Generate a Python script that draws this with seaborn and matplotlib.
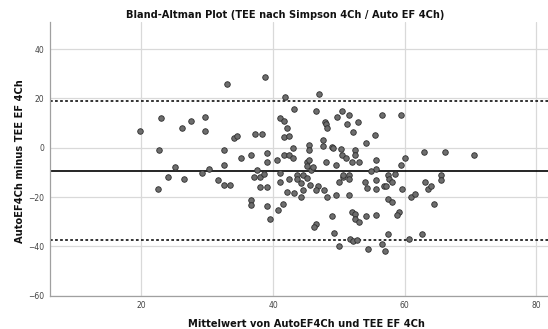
import matplotlib
matplotlib.use("Agg")
import matplotlib.pyplot as plt
import seaborn as sns
import pandas as pd

# ---- data ----
mean_values = [
    19.8, 23.0, 26.1, 27.6, 29.7, 29.7, 22.6, 25.1, 24.0, 26.4, 29.2, 30.2, 22.5,
    33.0, 38.8, 41.8, 34.1, 34.6, 37.3, 38.3, 41.0, 41.6, 42.1, 41.7, 42.4,
    32.6, 35.1, 36.6, 39.1, 39.1, 40.6, 41.6, 42.4, 32.6, 31.7, 32.6, 33.5,
    37.6, 37.1, 38.0, 38.6, 41.1, 42.4, 38.0, 39.1, 41.1, 42.1, 36.7, 36.7,
    39.1, 40.7, 41.5, 39.6,
    47.0, 43.2, 46.6, 49.7, 50.5, 51.6, 52.9, 51.3, 52.1, 47.9, 48.1, 48.2,
    54.1, 47.6, 47.6, 45.5, 45.5, 43.1, 48.9, 49.1, 50.4, 52.5, 52.5, 50.5,
    51.1, 53.1, 52.0, 48.0, 49.6, 43.0, 45.1, 45.5, 45.2, 45.7, 46.1, 43.6,
    44.6, 45.1, 43.6, 44.2, 45.6, 46.8, 46.5, 44.6, 47.7, 43.2, 44.2, 48.2,
    49.5, 51.5, 50.6, 50.6, 51.6, 51.6, 50.0, 54.0, 54.3, 49.0, 46.5, 46.2,
    49.3, 52.0, 52.5, 52.5, 53.1, 54.1, 51.7, 52.1, 52.8, 50.0, 54.5,
    57.0, 56.6, 57.5, 60.6, 62.6, 56.5, 59.5, 55.5, 63.0, 66.1, 60.1, 59.5,
    55.6, 55.6, 54.9, 55.6, 55.6, 57.5, 58.5, 57.6, 58.1, 56.9, 57.1, 59.6,
    57.5, 58.1, 59.1, 58.8, 55.7, 61.0, 61.6, 63.1, 63.6, 64.0, 64.5, 65.5,
    65.5, 70.6,
]
diff_values = [
    6.6, 12.0, 8.0, 11.0, 12.5, 6.6, -1.0, -7.9, -12.0, -12.7, -10.2, -8.5, -16.8,
    25.9, 28.5, 20.4, 4.0, 4.9, 5.5, 5.6, 12.1, 11.0, 7.9, 4.5, 4.9,
    -1.0, -4.0, -3.0, -2.0, -5.9, -5.1, -3.0, -3.0, -7.0, -13.2, -15.0, -15.0,
    -8.9, -12.0, -12.0, -10.8, -10.1, -12.8, -15.9, -15.9, -14.0, -17.9, -21.0, -23.1,
    -23.7, -25.1, -22.8, -28.9,
    22.0, 15.8, 14.9, 12.5, 15.1, 13.1, 10.3, 9.5, 6.2, 10.3, 9.7, 7.9,
    2.1, 3.0, 0.9, 1.1, -1.0, -0.1, 0.5, 0.1, -0.7, -0.9, -3.0, -3.0,
    -4.0, -5.9, -5.9, -5.9, -7.1, -4.0, -5.9, -4.9, -7.5, -8.9, -8.0, -11.0,
    -11.0, -12.1, -12.8, -14.4, -15.0, -15.5, -17.0, -17.0, -17.0, -18.2, -20.1, -20.1,
    -19.0, -19.0, -11.7, -10.9, -10.9, -12.8, -13.9, -13.9, -16.4, -27.8, -30.8, -32.0,
    -34.4, -25.9, -27.0, -28.9, -30.0, -27.8, -37.1, -37.9, -37.4, -39.8, -40.9,
    -41.7, -38.9, -34.8, -36.9, -34.8, 13.1, 13.1, 5.1, -1.8, -1.8, -4.0, -6.8,
    -4.9, -8.7, -9.5, -12.9, -16.8, -10.9, -10.8, -12.7, -14.0, -15.5, -15.7, -16.8,
    -20.9, -22.0, -25.9, -27.4, -27.1, -20.0, -18.9, -14.0, -16.8, -15.6, -22.9, -10.9,
    -12.9, -3.0,
]
mean_difference = -9.4
upper_limit = 18.9
lower_limit = -37.3

x_ticks = [20, 40, 60, 80]
y_ticks = [-60, -40, -20, 0, 20, 40]

title_text = "Bland-Altman Plot (TEE nach Simpson 4Ch / Auto EF 4Ch)"
x_label = "Mittelwert von AutoEF4Ch und TEE EF 4Ch"
y_label = "AutoEF4Ch minus TEE EF 4Ch"

df = pd.DataFrame({"mean": mean_values, "diff": diff_values})

sns.set_theme(style="white")
plt.rcParams["font.family"] = ["DejaVu Sans"]

fig = plt.figure(figsize=(5.48, 3.29), dpi=100)
ax = fig.add_axes([50 / 548, 1 - 295.7 / 329, (548 - 50) / 548, (295.7 - 22) / 329])

ax.set_xlim(6.1, 81.8)
ax.set_ylim(-60, 51)
ax.set_xticks(x_ticks)
ax.set_yticks(y_ticks)
ax.grid(True, color="#d9d9d9", linewidth=0.9)
ax.set_axisbelow(True)

for s in ["top", "right"]:
    ax.spines[s].set_visible(False)
for s in ["left", "bottom"]:
    ax.spines[s].set_color("#a0a0a0")
    ax.spines[s].set_linewidth(0.9)

sns.scatterplot(data=df, x="mean", y="diff", ax=ax, s=16, color="#6d6d6d",
                edgecolor="#2e2e2e", linewidth=0.6, zorder=3, legend=False)

ax.axhline(mean_difference, color="black", linewidth=1.2, zorder=2)
ax.axhline(upper_limit, color="#222222", linewidth=1.3, linestyle=(0, (1.5, 1.3)), zorder=2)
ax.axhline(lower_limit, color="#222222", linewidth=1.3, linestyle=(0, (1.5, 1.3)), zorder=2)

ax.tick_params(axis="both", length=0, labelsize=5.5, labelcolor="#444444", pad=4)

ax.set_xlabel(x_label, fontsize=7.1, fontweight="bold", color="#111111")
ax.set_ylabel(y_label, fontsize=7.1, fontweight="bold", color="#111111")
ax.xaxis.set_label_coords((306 - 50) / 498, -(323.7 - 295.7) / 273.7)
ax.yaxis.set_label_coords(-(50 - 20) / 498, (295.7 - 161) / 273.7)
ax.xaxis.label.set_va("center")
ax.yaxis.label.set_va("center")

fig.text(285 / 548, 1 - 14.7 / 329, title_text, ha="center", va="center",
         fontsize=7.1, fontweight="bold", color="#111111")

fig.savefig("out.png", dpi=100)
